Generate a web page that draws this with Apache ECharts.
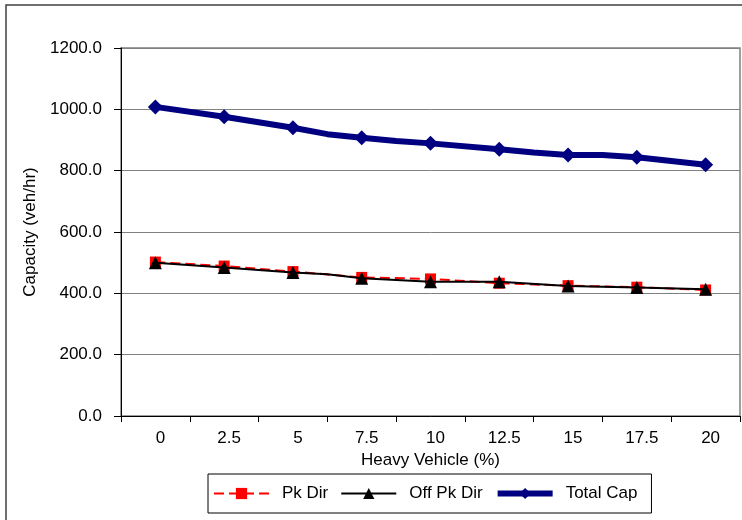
<!DOCTYPE html>
<html>
<head>
<meta charset="utf-8">
<script src="https://cdn.jsdelivr.net/npm/echarts@6/dist/echarts.min.js"></script>
<style>
  html, body { margin: 0; padding: 0; background: #fff; }
  #chart { width: 742px; height: 520px; }
</style>
</head>
<body>
<div id="chart"></div>
<script>
// Heavy vehicle share (%) on the category axis
const hvLabels = ['0', '2.5', '5', '7.5', '10', '12.5', '15', '17.5', '20'];
const hvPct = [0, 2.5, 5, 7.5, 10, 12.5, 15, 17.5, 20];

// Capacity (veh/hr) per heavy vehicle share
const pkDir = [502, 489, 471, 452, 447, 433, 425, 420, 411];
const offPkDir = [500, 484, 468, 449, 438, 438, 424, 419, 413];
const totalCap = [1008, 976, 940, 907, 889, 870, 851, 844, 819];

// Unmarked vertices where the lines change slope between labelled shares
const totalCapBends = [[6.25, 919], [8.75, 897], [13.75, 859], [16.25, 851]];
const offPkBends = [[6.25, 462]];

const yTicks = [0, 200, 400, 600, 800, 1000, 1200];

function buildPoints(xs, ys, bends) {
  const pts = xs.map((x, i) => ({ value: [x, ys[i]] }));
  (bends || []).forEach(b => pts.push({ value: b, symbolSize: 0 }));
  return pts.sort((a, b) => a.value[0] - b.value[0]);
}

const FONT = 'Liberation Sans, Arial, sans-serif';
const chart = echarts.init(document.getElementById('chart'), null, { renderer: 'canvas' });

chart.setOption({
  animation: false,
  backgroundColor: '#ffffff',
  textStyle: { fontFamily: FONT, color: '#000' },
  graphic: [{
    type: 'rect',
    shape: { x: 6, y: 5, width: 800, height: 600 },
    style: { fill: 'none', stroke: '#404040', lineWidth: 1.5 },
    silent: true, z: -1
  }],
  grid: {
    left: 121, right: 2, top: 48, bottom: 104,
    show: true, borderColor: '#808080', borderWidth: 1.5, backgroundColor: 'transparent'
  },
  legend: {
    left: 208, top: 474,
    padding: [11, 14, 11, 5],
    borderColor: '#000', borderWidth: 1, backgroundColor: '#fff',
    itemWidth: 55, itemHeight: 14, itemGap: 12,
    lineStyle: { width: 'inherit' },
    textStyle: { fontFamily: FONT, fontSize: 17, color: '#000', padding: [0, 0, 0, 8] },
    data: ['Pk Dir', 'Off Pk Dir', 'Total Cap']
  },
  xAxis: [{
    type: 'category',
    data: hvLabels,
    boundaryGap: true,
    name: 'Heavy Vehicle (%)',
    nameLocation: 'middle',
    nameGap: 34,
    nameTextStyle: { fontFamily: FONT, fontSize: 17, color: '#000' },
    axisLine: { lineStyle: { color: '#000', width: 1 } },
    axisTick: { show: true, length: 6, lineStyle: { color: '#000' } },
    axisLabel: { fontFamily: FONT, fontSize: 17, color: '#000', margin: 14, padding: [0, 0, 0, 10] },
    splitLine: { show: false }
  }, {
    type: 'value',
    min: -1.25, max: 21.25,
    show: false,
    splitLine: { show: false }
  }],
  yAxis: {
    type: 'value',
    min: 0, max: 1200, interval: 200,
    name: 'Capacity (veh/hr)',
    nameLocation: 'middle',
    nameRotate: 90,
    nameGap: 78,
    nameTextStyle: { fontFamily: FONT, fontSize: 17, color: '#000' },
    axisLine: { show: true, onZero: false, lineStyle: { color: '#000', width: 1 } },
    axisTick: { show: true, length: 7, lineStyle: { color: '#000' } },
    axisLabel: {
      fontFamily: FONT, fontSize: 17, color: '#000', margin: 19,
      formatter: v => yTicks.includes(v) ? v.toFixed(1) : ''
    },
    splitLine: { show: true, lineStyle: { color: '#808080', width: 1 } }
  },
  series: [{
    name: 'Pk Dir',
    type: 'line',
    xAxisIndex: 1,
    data: buildPoints(hvPct, pkDir),
    symbol: 'rect', symbolSize: 11,
    itemStyle: { color: '#ff0000' },
    lineStyle: { color: '#ff0000', width: 2, type: [10, 5] },
    z: 2
  }, {
    name: 'Off Pk Dir',
    type: 'line',
    xAxisIndex: 1,
    data: buildPoints(hvPct, offPkDir, offPkBends),
    symbol: 'triangle', symbolSize: 13,
    itemStyle: { color: '#000000' },
    lineStyle: { color: '#000000', width: 2 },
    z: 3
  }, {
    name: 'Total Cap',
    type: 'line',
    xAxisIndex: 1,
    data: buildPoints(hvPct, totalCap, totalCapBends),
    symbol: 'diamond', symbolSize: 15,
    itemStyle: { color: '#000080' },
    lineStyle: { color: '#000080', width: 6 },
    z: 4
  }]
});
</script>
</body>
</html>
